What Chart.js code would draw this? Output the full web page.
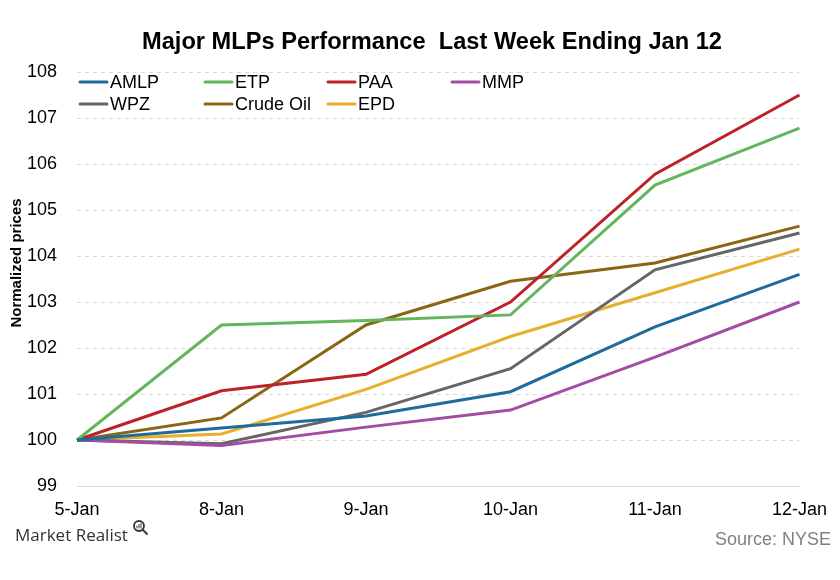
<!DOCTYPE html>
<html>
<head>
<meta charset="utf-8">
<script src="https://cdn.jsdelivr.net/npm/chart.js@4/dist/chart.umd.min.js"></script>
<style>
  html, body { margin: 0; padding: 0; background: #fff; }
  #wrap { width: 840px; height: 580px; }
</style>
</head>
<body>
<div id="wrap"><canvas id="grafico" width="840" height="580"></canvas></div>
<script>
const fechas = ['5-Jan', '8-Jan', '9-Jan', '10-Jan', '11-Jan', '12-Jan'];
const series = ['AMLP', 'ETP', 'PAA', 'MMP', 'WPZ', 'Crude Oil', 'EPD'];

const amlp  = [100, 100.26, 100.52, 101.05, 102.46, 103.6];
const etp   = [100, 102.5, 102.6, 102.72, 105.54, 106.78];
const paa   = [100, 101.07, 101.43, 103.0, 105.78, 107.5];
const mmp   = [100, 99.88, 100.28, 100.65, 101.8, 103.0];
const wpz   = [100, 99.92, 100.6, 101.55, 103.7, 104.5];
const crudo = [100, 100.48, 102.5, 103.45, 103.85, 104.65];
const epd   = [100, 100.13, 101.1, 102.25, 103.2, 104.15];

const valores = [amlp, etp, paa, mmp, wpz, crudo, epd];
const colores = ['#1f6b9c', '#63b65c', '#be2229', '#a24ca5', '#666666', '#8a6614', '#e7b02c'];

const fuente = '"Liberation Sans", Arial, sans-serif';

// leyenda en 4 columnas, 2 filas (orden de la imagen)
const columnasX = [80, 205, 328, 452];
const filasY = [82, 104];

const leyendaPlugin = {
    id: 'leyendaGrid',
    afterDraw(chart) {
        const ctx = chart.ctx;
        ctx.save();
        ctx.font = '18px ' + fuente;
        ctx.textBaseline = 'middle';
        chart.data.datasets.forEach((ds, i) => {
            const x = columnasX[i % 4];
            const y = filasY[Math.floor(i / 4)];
            ctx.strokeStyle = ds.borderColor;
            ctx.lineWidth = 3;
            ctx.lineCap = 'round';
            ctx.beginPath();
            ctx.moveTo(x, y);
            ctx.lineTo(x + 27, y);
            ctx.stroke();
            ctx.fillStyle = '#000';
            ctx.textAlign = 'left';
            ctx.fillText(ds.label, x + 30, y + 1);
        });

        // titulo, ajustado al ancho del original
        const titulo = 'Major MLPs Performance  Last Week Ending Jan 12';
        ctx.font = 'bold 23px ' + fuente;
        const ancho = ctx.measureText(titulo).width;
        ctx.save();
        ctx.translate(432, 43);
        ctx.scale(580 / ancho, 1);
        ctx.textAlign = 'center';
        ctx.fillStyle = '#000';
        ctx.fillText(titulo, 0, 0);
        ctx.restore();

        // titulo del eje y
        ctx.save();
        ctx.translate(17, 263);
        ctx.rotate(-Math.PI / 2);
        ctx.font = 'bold 15px ' + fuente;
        ctx.textAlign = 'center';
        ctx.fillStyle = '#000';
        ctx.fillText('Normalized prices', 0, 0);
        ctx.restore();

        // pie
        ctx.font = '18px ' + fuente;
        ctx.textAlign = 'right';
        ctx.fillStyle = '#808080';
        ctx.fillText('Source: NYSE', 831, 540);

        ctx.font = '17px "Open Sans", "DejaVu Sans", sans-serif';
        ctx.textAlign = 'left';
        ctx.fillStyle = '#333';
        ctx.fillText('Market Realist', 15, 536);
        // lupa
        ctx.strokeStyle = '#333';
        ctx.lineWidth = 1.8;
        ctx.beginPath();
        ctx.arc(139, 526, 5, 0, Math.PI * 2);
        ctx.stroke();
        ctx.beginPath();
        ctx.moveTo(142.5, 529.5);
        ctx.lineTo(147, 534);
        ctx.stroke();
        ctx.lineWidth = 1;
        ctx.beginPath();
        ctx.moveTo(137, 528); ctx.lineTo(137, 526);
        ctx.moveTo(139, 528); ctx.lineTo(139, 524.5);
        ctx.moveTo(141, 528); ctx.lineTo(141, 523.5);
        ctx.stroke();
        ctx.restore();
    }
};

const datasets = series.map((nombre, i) => ({
    label: nombre,
    data: valores[i],
    borderColor: colores[i],
    backgroundColor: colores[i],
    borderWidth: 3,
    pointRadius: 0,
    tension: 0,
    fill: false
}));

new Chart(document.getElementById('grafico'), {
    type: 'line',
    data: { labels: fechas, datasets: datasets },
    plugins: [leyendaPlugin],
    options: {
        responsive: false,
        animation: false,
        layout: { padding: { top: 72, right: 38, bottom: 64, left: 0 } },
        plugins: {
            legend: { display: false },
            title: { display: false },
            tooltip: { enabled: false }
        },
        scales: {
            x: {
                offset: false,
                grid: { display: false, drawTicks: false },
                border: { display: true, color: '#d9d9d9', width: 1 },
                ticks: {
                    color: '#000',
                    font: { size: 18, family: fuente },
                    maxRotation: 0,
                    autoSkip: false,
                    padding: 13
                },
                afterFit(scale) { scale.height = 30; }
            },
            y: {
                min: 99,
                max: 108,
                ticks: {
                    stepSize: 1,
                    color: '#000',
                    font: { size: 18, family: fuente },
                    padding: 20
                },
                grid: {
                    drawTicks: false,
                    color: (c) => c.tick && c.tick.value === 99 ? 'rgba(0,0,0,0)' : '#d9d9d9'
                },
                border: { display: false, dash: [4, 4] },
                afterFit(scale) { scale.width = 77; }
            }
        }
    }
});
</script>
</body>
</html>
